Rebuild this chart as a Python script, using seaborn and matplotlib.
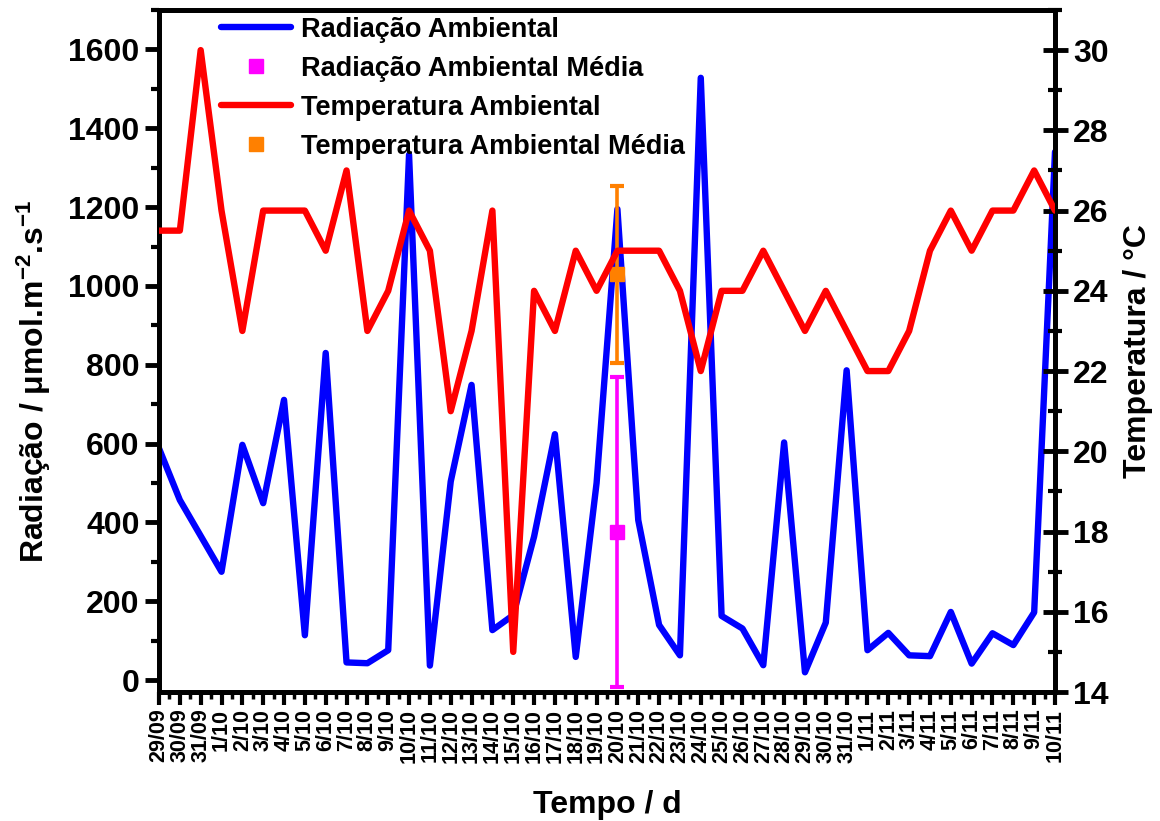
import matplotlib
matplotlib.use("Agg")
import matplotlib.pyplot as plt
import seaborn as sns
import pandas as pd
from matplotlib.lines import Line2D
from matplotlib.ticker import AutoMinorLocator

# ---------------- data ----------------
dates = ['29/09', '30/09', '31/09', '1/10', '2/10', '3/10', '4/10', '5/10', '6/10',
         '7/10', '8/10', '9/10', '10/10', '11/10', '12/10', '13/10', '14/10', '15/10',
         '16/10', '17/10', '18/10', '19/10', '20/10', '21/10', '22/10', '23/10',
         '24/10', '25/10', '26/10', '27/10', '28/10', '29/10', '30/10', '31/10',
         '1/11', '2/11', '3/11', '4/11', '5/11', '6/11', '7/11', '8/11', '9/11', '10/11']

radiation = [588, 457, 366, 275, 597, 449, 711, 114, 830, 45, 43, 76, 1333, 37, 504,
             749, 127, 165, 364, 624, 59, 500, 1195, 406, 140, 63, 1528, 163, 131, 38,
             603, 20, 146, 786, 76, 120, 63, 61, 173, 42, 119, 89, 172, 1340]

temperature = [25.5, 25.5, 30, 26, 23, 26, 26, 26, 25, 27, 23, 24, 26, 25, 21, 23, 26,
               15, 24, 23, 25, 24, 25, 25, 25, 24, 22, 24, 24, 25, 24, 23, 24, 23, 22,
               22, 23, 25, 26, 25, 26, 26, 27, 26]

mean_date = '20/10'
radiation_mean = 376
radiation_sd = 393
temperature_mean = 24.41
temperature_sd = 2.2

labels = ['Radiação Ambiental', 'Radiação Ambiental Média',
          'Temperatura Ambiental', 'Temperatura Ambiental Média']

# ---------------- style ----------------
sns.set_theme(style='ticks')
plt.rcParams['font.family'] = ['Liberation Sans', 'DejaVu Sans']
plt.rcParams['font.weight'] = 'bold'
plt.rcParams['axes.labelweight'] = 'bold'
plt.rcParams['mathtext.default'] = 'regular'
for k in ('text.color', 'axes.labelcolor', 'xtick.color', 'ytick.color', 'axes.edgecolor'):
    plt.rcParams[k] = 'black'

W, H = 1160, 821
fig = plt.figure(figsize=(W / 100, H / 100), dpi=100)
L, R, T, B = 159, 1055, 10, 692
ax = fig.add_axes([L / W, 1 - B / H, (R - L) / W, (B - T) / H])

df = pd.DataFrame({'pos': list(range(len(dates))), 'rad': radiation, 'temp': temperature})
mpos = dates.index(mean_date)

lw = 4.6
sns.lineplot(data=df, x='pos', y='rad', ax=ax, color='#0000FF', lw=lw, legend=False)
ax.errorbar([mpos], [radiation_mean], yerr=[radiation_sd], fmt='s', color='#FF00FF',
            ms=10, elinewidth=2.6, capsize=5, capthick=3, zorder=5)

ax2 = ax.twinx()
ax2.errorbar([mpos], [temperature_mean], yerr=[temperature_sd], fmt='s', color='#FF8000',
             ms=10, elinewidth=2.6, capsize=5, capthick=3, zorder=2)
sns.lineplot(data=df, x='pos', y='temp', ax=ax2, color='#FF0000', lw=lw, legend=False, zorder=3)

# ---------------- axes ----------------
ax.set_xlim(0, len(dates) - 1)
ax.set_ylim(-30, 1700)
ax2.set_ylim(14, 31)

ax.set_xticks(range(len(dates)))
ax.set_xticklabels(dates, rotation=90, fontsize=15.5, fontweight='bold')
ax.xaxis.set_minor_locator(AutoMinorLocator(2))
ax.set_yticks(range(0, 1601, 200))
ax.yaxis.set_minor_locator(AutoMinorLocator(2))
ax2.set_yticks(range(14, 31, 2))
ax2.yaxis.set_minor_locator(AutoMinorLocator(2))

for a in (ax, ax2):
    for s in a.spines.values():
        s.set_linewidth(3.5)
        s.set_color('black')

ax.tick_params(axis='y', which='major', direction='out', length=10, width=3.5,
               labelsize=23, right=False, pad=4, colors='black')
ax.tick_params(axis='y', which='minor', direction='out', length=6, width=3, right=False)
ax.tick_params(axis='x', which='major', direction='out', length=9, width=3,
               labelsize=15.5, pad=3, colors='black')
ax.tick_params(axis='x', which='minor', direction='out', length=5, width=2.5)
ax2.tick_params(axis='y', which='major', direction='inout', length=18, width=3.5,
                labelsize=23, pad=4, colors='black')
ax2.tick_params(axis='y', which='minor', direction='inout', length=10, width=3)
for lab in ax.get_yticklabels() + ax2.get_yticklabels():
    lab.set_fontweight('bold')

ax.set_xlabel('Tempo / d', fontsize=23, fontweight='bold', labelpad=20, color='black')
ax.set_ylabel('Radiação / μmol.m$^{-2}$.s$^{-1}$', fontsize=23, fontweight='bold', color='black')
ax.yaxis.set_label_coords(-0.118, 0.455)
ax2.set_ylabel('Temperatura / °C', fontsize=23, fontweight='bold', labelpad=10, color='black')

handles = [Line2D([], [], color='#0000FF', lw=lw),
           Line2D([], [], color='#FF00FF', marker='s', ls='none', ms=10),
           Line2D([], [], color='#FF0000', lw=lw),
           Line2D([], [], color='#FF8000', marker='s', ls='none', ms=10)]
leg = ax2.legend(handles, labels, loc='upper left', bbox_to_anchor=(210 / W, 1 - 6 / H),
                 bbox_transform=fig.transFigure, frameon=False,
                 prop={'weight': 'bold', 'size': 19.5}, handlelength=2.6,
                 handletextpad=0.35, labelspacing=0.48, borderpad=0.4, borderaxespad=0)
for t in leg.get_texts():
    t.set_color('black')

fig.savefig('out.png', dpi=100)
